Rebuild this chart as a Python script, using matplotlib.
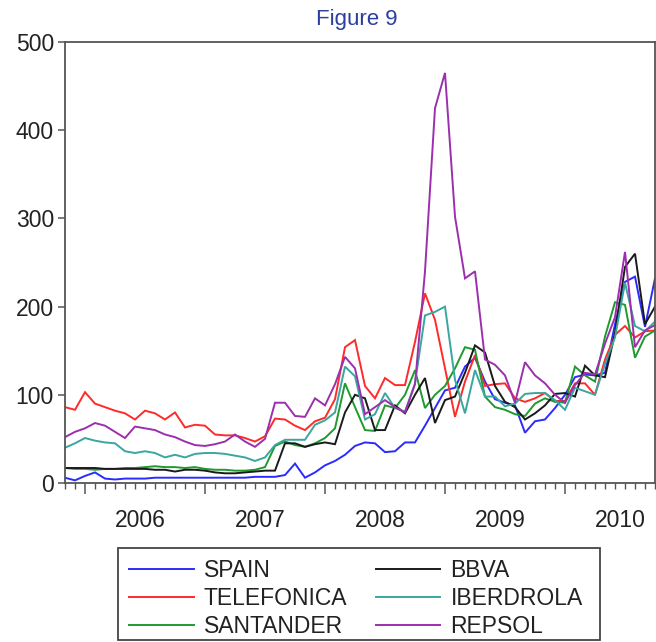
import matplotlib
matplotlib.use("Agg")
import matplotlib.pyplot as plt
import matplotlib.transforms as mtransforms
from matplotlib.patches import Rectangle
import numpy as np

plt.rcParams['font.family'] = ['Liberation Sans', 'DejaVu Sans']

# Monthly observations, Nov 2005 .. Oct 2010 (60 months)
start_year, start_month = 2005, 11
n_months = 60

spain = [6, 3, 8, 12, 5, 4, 5, 5, 5, 6, 6, 6, 6, 6, 6, 6, 6, 6, 6, 7, 7,
         7, 9, 22, 6, 12, 20, 25, 32, 42, 46, 45, 35, 36, 46, 46, 65, 85, 105, 108,
         132, 142, 115, 95, 91, 88, 57, 70, 72, 85, 100, 120, 123, 122, 125, 180,
         228, 234, 177, 232]
telefonica = [86, 83, 103, 90, 86, 82, 79, 72, 82, 79, 72, 80, 63, 66, 65, 55, 54, 54, 51, 47, 53,
              73, 72, 65, 60, 70, 74, 95, 154, 162, 110, 96, 119, 111, 111, 160, 215, 185, 130, 75,
              115, 145, 110, 112, 113, 96, 92, 96, 102, 93, 93, 113, 113, 100, 140, 168,
              178, 165, 172, 173]
santander = [17, 16, 16, 15, 16, 16, 17, 17, 18, 19, 18, 18, 17, 18, 16, 15, 15, 14, 14, 15, 18,
             42, 47, 43, 41, 45, 51, 62, 113, 86, 60, 59, 88, 85, 100, 128, 85, 100, 110, 130,
             154, 151, 98, 86, 83, 78, 76, 90, 96, 92, 91, 132, 122, 115, 166, 205,
             202, 142, 166, 173]
bbva = [17, 17, 17, 17, 16, 16, 16, 16, 16, 15, 15, 13, 15, 15, 14, 12, 11, 11, 12, 13, 14,
        14, 45, 45, 41, 44, 46, 44, 80, 100, 96, 60, 60, 88, 79, 100, 119, 68, 94, 98,
        125, 156, 148, 110, 92, 86, 72, 79, 88, 101, 102, 98, 133, 122, 120, 170,
        245, 260, 180, 200]
iberdrola = [40, 45, 51, 48, 46, 45, 36, 34, 36, 34, 29, 32, 29, 33, 34, 34, 33, 31, 29, 25, 29,
             43, 49, 49, 49, 66, 71, 80, 132, 121, 72, 78, 102, 85, 81, 113, 190, 194, 200, 117,
             79, 128, 98, 98, 87, 90, 101, 102, 102, 94, 83, 108, 104, 100, 135, 165,
             227, 178, 172, 183]
repsol = [52, 58, 62, 68, 65, 58, 51, 64, 62, 60, 55, 52, 47, 43, 42, 44, 47, 55, 47, 41, 50,
          91, 91, 76, 75, 96, 88, 112, 143, 130, 78, 86, 94, 86, 80, 112, 240, 425, 465, 302,
          232, 240, 140, 134, 122, 91, 137, 122, 113, 100, 91, 111, 125, 123, 158, 188,
          262, 154, 173, 179]

series_names = ["SPAIN", "TELEFONICA", "SANTANDER", "BBVA", "IBERDROLA", "REPSOL"]
series_values = [spain, telefonica, santander, bbva, iberdrola, repsol]
series_colors = ["#2b2bff", "#ff2a2a", "#1e9a2e", "#1a1a1a", "#3aa6a0", "#9c2fae"]
year_labels = ["2006", "2007", "2008", "2009", "2010"]
y_ticks = [0, 100, 200, 300, 400, 500]

fig = plt.figure(figsize=(6.56, 6.42), dpi=100)
ax = fig.add_axes([65 / 656, 1 - 483 / 642, 590 / 656, 441 / 642])

x = np.arange(n_months)
lines = []
for name, vals, col in zip(series_names, series_values, series_colors):
    ln, = ax.plot(x, vals, color=col, lw=1.4, label=name, solid_joinstyle='miter')
    lines.append(ln)

ax.set_xlim(0, n_months - 1)
ax.set_ylim(0, 500)

frame_col = "#555555"
for s in ax.spines.values():
    s.set_color(frame_col)
    s.set_linewidth(1.3)

ax.set_yticks(y_ticks)
ax.set_yticklabels([str(v) for v in y_ticks])
ax.tick_params(axis='y', which='major', direction='out', length=5, width=1.1,
               color=frame_col, pad=3, labelsize=16.5, labelcolor='#222222',
               left=True, right=False)

# month index of each January
jan_idx = [(12 - start_month + 1) % 12 + 12 * k for k in range(len(year_labels))]
ax.set_xticks(jan_idx)
ax.set_xticklabels([''] * len(jan_idx))
ax.set_xticks(x, minor=True)
ax.tick_params(axis='x', which='major', direction='out', length=8, width=1.1,
               color=frame_col, top=False, bottom=True)
ax.tick_params(axis='x', which='minor', direction='out', length=4, width=1.0,
               color=frame_col, top=False, bottom=True)

trans = mtransforms.blended_transform_factory(ax.transData, ax.transAxes)
for j, lab in zip(jan_idx, year_labels):
    ax.text(j + 5.5, -0.084, lab, transform=trans, ha='center', va='center',
            fontsize=16.5, color='#222222')

fig.text(357 / 656, 1 - 20 / 642, "Figure 9", ha='center', va='center',
         fontsize=16, color='#2c3f9e')

order = [0, 1, 2, 3, 4, 5]
leg = fig.legend([lines[i] for i in order], [series_names[i] for i in order],
                 ncol=2, loc='upper left',
                 bbox_to_anchor=(118 / 656, 1 - 548 / 642),
                 frameon=False, fontsize=16.5,
                 handlelength=2.8, handletextpad=0.45, columnspacing=1.25,
                 labelspacing=0.2, borderpad=0.5, borderaxespad=0)
for t in leg.get_texts():
    t.set_color('#222222')

# legend frame
fig.add_artist(Rectangle((118 / 656, 1 - 640 / 642), (600 - 118) / 656, (640 - 548) / 642,
                         transform=fig.transFigure, fill=False,
                         edgecolor='#444444', linewidth=1.3))

fig.savefig("out.png", dpi=100)
